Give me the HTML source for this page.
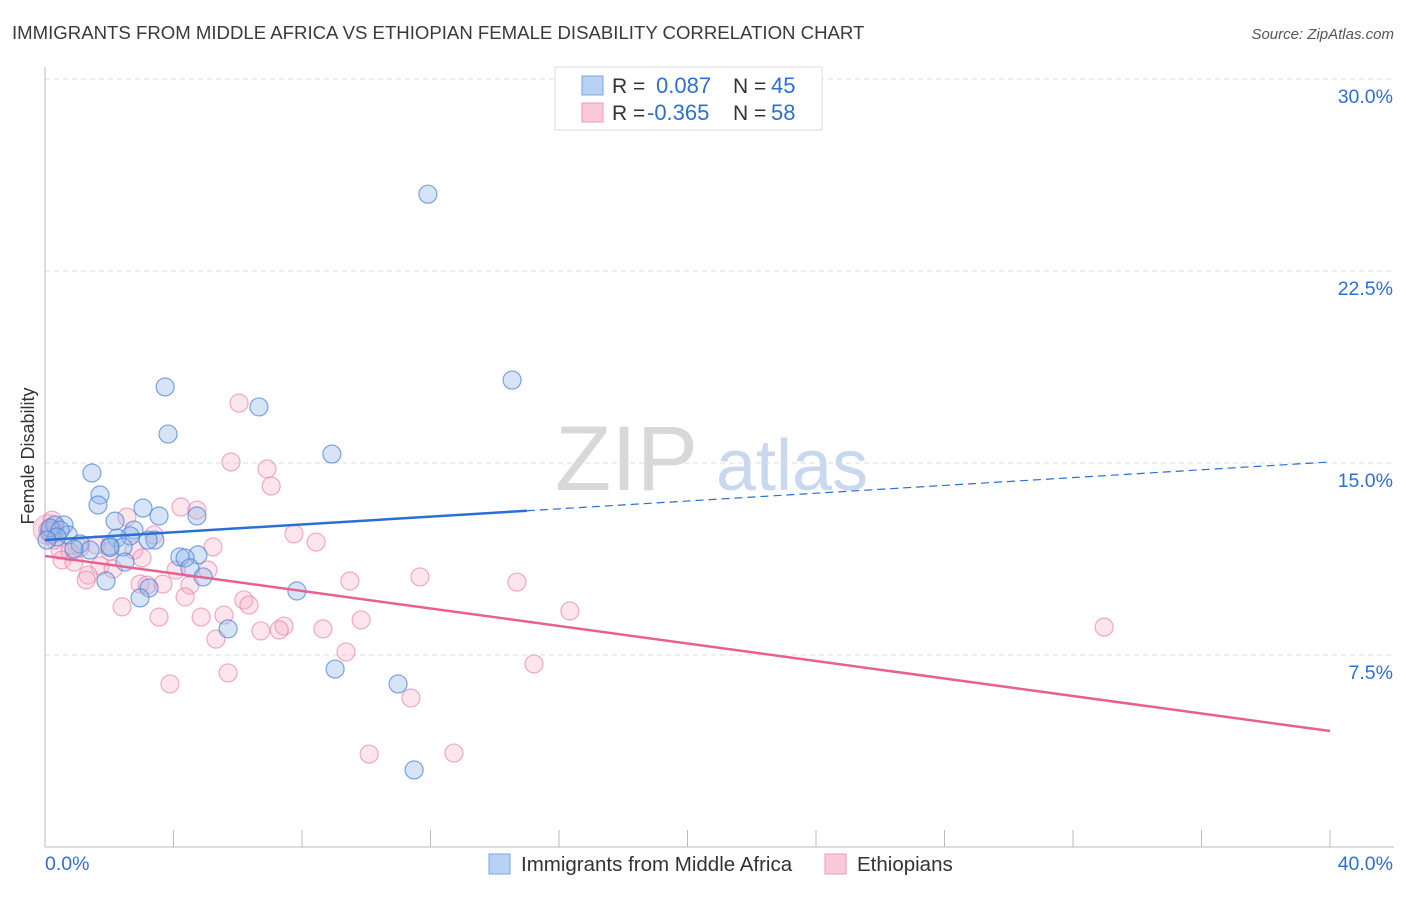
<!DOCTYPE html>
<html><head><meta charset="utf-8"><style>
body{margin:0;background:#fff;font-family:"Liberation Sans",sans-serif;}
svg text{font-family:"Liberation Sans",sans-serif;}
</style></head><body>
<svg id="chart" width="1406" height="892" xmlns="http://www.w3.org/2000/svg">
<text x="12" y="39" font-size="18.6" fill="#3a3a3a">IMMIGRANTS FROM MIDDLE AFRICA VS ETHIOPIAN FEMALE DISABILITY CORRELATION CHART</text>
<text x="1394" y="39" font-size="15" fill="#555" text-anchor="end" font-style="italic">Source: ZipAtlas.com</text>
<g>
<text x="555" y="490" font-size="92" fill="#d8d8d8" font-family="Liberation Serif,serif">ZIP</text>
<text x="716" y="490" font-size="72" fill="#c9d8ee">atlas</text>
</g>
<g id="grid"></g>
<g id="axes"></g>
<g id="pts"></g>
<g id="trends"></g>
<text transform="translate(34,456) rotate(-90)" font-size="18" fill="#333" text-anchor="middle">Female Disability</text>
<g>
<rect x="555" y="67" width="267" height="63" fill="#fff" stroke="#ddd"/>
<rect x="582" y="76" width="21" height="19" fill="#b8d2f4" stroke="#7aa6e0"/>
<rect x="582" y="103" width="21" height="19" fill="#fbcad8" stroke="#ee9ab4"/>
<text x="612" y="93" font-size="21" fill="#333">R =</text>
<text x="656" y="93" font-size="22" fill="#2f6fd0">0.087</text>
<text x="733" y="93" font-size="21" fill="#333">N =</text>
<text x="771" y="93" font-size="22" fill="#2f6fd0">45</text>
<text x="612" y="120" font-size="21" fill="#333">R =</text>
<text x="647" y="120" font-size="22" fill="#2f6fd0">-0.365</text>
<text x="733" y="120" font-size="21" fill="#333">N =</text>
<text x="771" y="120" font-size="22" fill="#2f6fd0">58</text>
</g>
<g>
<rect x="489" y="854" width="21" height="20" fill="#b8d2f4" stroke="#7aa6e0"/>
<text x="521" y="871" font-size="20.5" fill="#333">Immigrants from Middle Africa</text>
<rect x="825" y="854" width="21" height="20" fill="#fbcad8" stroke="#ee9ab4"/>
<text x="857" y="871" font-size="20.5" fill="#333">Ethiopians</text>
</g>
</svg>
<script>
const blueX=[11.92,14.54,3.74,6.66,3.83,8.93,1.46,1.71,1.65,3.05,4.73,3.55,2.18,0.59,0.31,0.16,2.77,2.65,2.24,3.42,3.21,0.72,1.09,2.02,2.43,1.40,0.90,4.20,4.76,4.36,2.49,4.51,4.92,1.90,7.84,3.24,2.96,5.70,9.03,10.99,11.49,0.47,0.37,0.06,2.02];
const blueY=[25.5,18.24,17.97,17.19,16.13,15.35,14.61,13.75,13.36,13.24,12.93,12.93,12.73,12.58,12.58,12.46,12.38,12.15,12.07,11.99,11.99,12.19,11.84,11.76,11.72,11.60,11.64,11.33,11.41,11.29,11.13,10.90,10.55,10.39,10.00,10.12,9.73,8.52,6.95,6.37,3.01,12.38,12.11,11.99,11.70];
const pinkX=[6.04,5.79,6.91,7.04,4.23,4.73,2.55,0.22,7.75,8.44,3.39,5.23,1.59,2.02,2.77,0.47,0.78,0.53,3.02,0.90,1.71,2.12,5.07,4.08,1.34,1.28,9.49,11.67,14.69,2.96,3.67,4.51,3.18,4.36,6.19,6.35,2.40,16.34,3.55,4.86,5.57,9.84,7.44,8.65,7.29,6.72,32.97,5.32,9.37,15.22,5.70,3.89,11.39,10.09,12.73,0.09,0.31,1.09];
const pinkY=[17.34,15.04,14.77,14.10,13.28,13.16,12.89,12.77,12.23,11.91,12.19,11.72,11.80,11.56,11.60,11.60,11.52,11.21,11.29,11.13,10.98,10.86,10.82,10.82,10.62,10.43,10.39,10.55,10.35,10.27,10.27,10.23,10.23,9.77,9.65,9.45,9.38,9.22,8.98,8.98,9.06,8.87,8.63,8.52,8.48,8.44,8.59,8.12,7.62,7.15,6.80,6.37,5.82,3.63,3.67,12.38,11.99,11.68];
const blueTrend=[11.99,15.04];
const pinkTrend=[11.37,4.53];
const yTicks=[7.5,15.0,22.5,30.0];
const xTickLabels=["0.0%","40.0%"];
const NS="http://www.w3.org/2000/svg";
const X0=45,X1=1330,Y0=847,YT=79;
const sx=v=>X0+(v/40)*(X1-X0);
const sy=v=>Y0-(v/30)*(Y0-YT);
function mk(tag,attrs,parent){const e=document.createElementNS(NS,tag);for(const k in attrs)e.setAttribute(k,attrs[k]);parent.appendChild(e);return e;}
const grid=document.getElementById('grid'),axes=document.getElementById('axes'),pts=document.getElementById('pts'),tr=document.getElementById('trends');
yTicks.forEach(t=>{
 const l=mk('line',{x1:X0,x2:1394,y1:sy(t),y2:sy(t),stroke:'#ddd','stroke-dasharray':'5,4'},grid);
 
 
 const tx=mk('text',{x:1393,y:sy(t)+24,'font-size':19.5,fill:'#2f6fd0','text-anchor':'end'},axes);
 tx.textContent=t.toFixed(1)+'%';
 
 
});
mk('line',{x1:X0,x2:X0,y1:67,y2:Y0,stroke:'#bbb'},axes);
mk('line',{x1:X0,x2:1394,y1:Y0,y2:Y0,stroke:'#bbb'},axes);
for(let i=1;i<=10;i++){const x=sx(i*4);const t=mk('line',{x1:x,x2:x,y1:830,y2:Y0,stroke:'#bbb'},axes);}
const xl0=mk('text',{x:45,y:870,'font-size':19.5,fill:'#2f6fd0'},axes);xl0.textContent=xTickLabels[0];


const xl1=mk('text',{x:1393,y:870,'font-size':19.5,fill:'#2f6fd0','text-anchor':'end'},axes);xl1.textContent=xTickLabels[1];


mk('circle',{cx:sx(0.1),cy:sy(12.4),r:15,fill:'rgba(246,160,190,0.35)',stroke:'rgba(232,110,150,0.5)'},pts);
mk('circle',{cx:sx(0.2),cy:sy(12.3),r:11,fill:'rgba(120,150,220,0.45)',stroke:'rgba(60,120,210,0.6)'},pts);
pinkX.forEach((v,i)=>{const c=mk('circle',{cx:sx(v),cy:sy(pinkY[i]),r:9,fill:'rgba(246,170,195,0.3)',stroke:'rgba(232,120,160,0.6)','stroke-width':1.2},pts);
 
 });
blueX.forEach((v,i)=>{const c=mk('circle',{cx:sx(v),cy:sy(blueY[i]),r:9,fill:'rgba(150,185,235,0.38)',stroke:'rgba(70,130,215,0.7)','stroke-width':1.2},pts);
 
 });
const bAt=x=>blueTrend[0]+(blueTrend[1]-blueTrend[0])*x/40;
const b1=mk('line',{x1:sx(0),y1:sy(bAt(0)),x2:sx(15),y2:sy(bAt(15)),stroke:'#2a6fd4','stroke-width':2.5},tr);


const b2=mk('line',{x1:sx(15),y1:sy(bAt(15)),x2:sx(40),y2:sy(bAt(40)),stroke:'#2a6fd4','stroke-width':1.2,'stroke-dasharray':'8,5'},tr);


const p1=mk('line',{x1:sx(0),y1:sy(pinkTrend[0]),x2:sx(40),y2:sy(pinkTrend[1]),stroke:'#e8608f','stroke-width':2.5},tr);


</script>
</body></html>
